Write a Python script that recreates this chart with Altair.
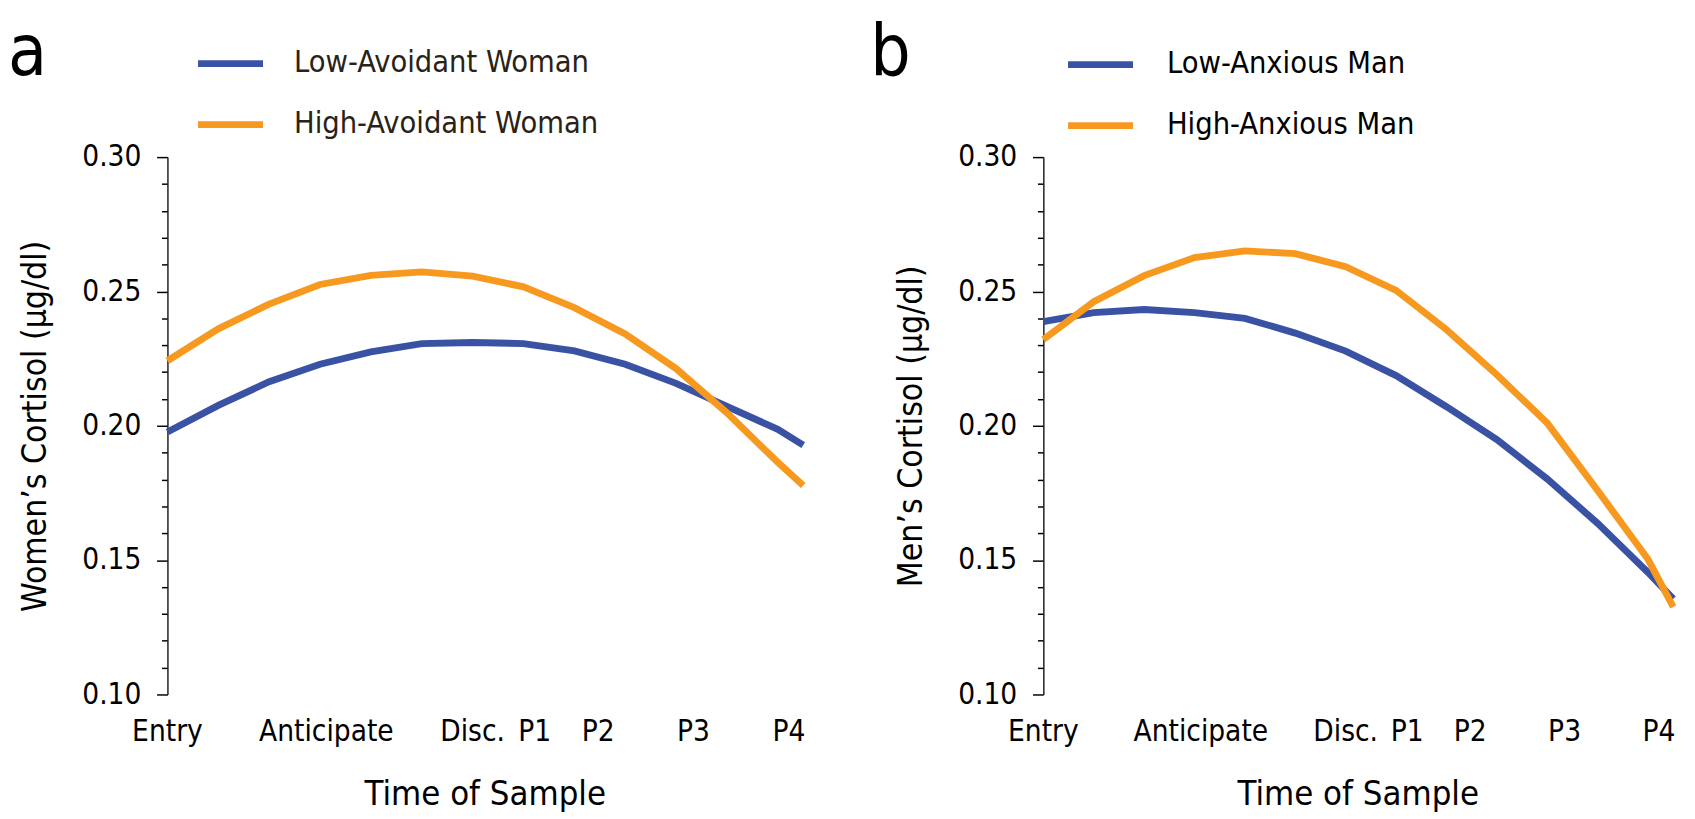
import altair as alt
import pandas as pd

# ---- data ----
t_points = [0, 1.6, 3.2, 4.8, 6.4, 8.0, 9.6, 11.2, 12.8, 14.4, 16.0, 17.6, 19.2, 20.0]

women_low_avoidant = [0.1977, 0.2076, 0.2164, 0.2229, 0.2275, 0.2306, 0.2310,
                      0.2306, 0.2279, 0.2229, 0.2158, 0.2072, 0.1987, 0.1928]
women_high_avoidant = [0.2242, 0.2361, 0.2453, 0.2526, 0.2560, 0.2573, 0.2557,
                       0.2517, 0.2440, 0.2342, 0.2213, 0.2048, 0.1864, 0.1778]
men_low_anxious = [0.2388, 0.2421, 0.2433, 0.2421, 0.2400, 0.2345, 0.2278,
                   0.2187, 0.2071, 0.1949, 0.1802, 0.1637, 0.1454, 0.1356]
men_high_anxious = [0.2321, 0.2462, 0.2559, 0.2626, 0.2651, 0.2641, 0.2592,
                    0.2504, 0.2358, 0.2190, 0.2010, 0.1759, 0.1503, 0.1326]

series_a = ["Low-Avoidant Woman", "High-Avoidant Woman"]
series_b = ["Low-Anxious Man", "High-Anxious Man"]
line_colors = ["#3a52a4", "#f7991f"]

time_labels = ["Entry", "Anticipate", "Disc.", "P1", "P2", "P3", "P4"]
time_label_pos = [0, 5, 9.6, 11.55, 13.55, 16.55, 19.55]

x_tick_values = [0, 1, 2, 3, 4, 5, 6, 7, 8, 9, 10, 11, 12, 13, 14, 15, 16, 17, 18, 19, 20]
y_tick_values = [0.10, 0.11, 0.12, 0.13, 0.14, 0.15, 0.16, 0.17, 0.18, 0.19, 0.20,
                 0.21, 0.22, 0.23, 0.24, 0.25, 0.26, 0.27, 0.28, 0.29, 0.30]

FONT = "DejaVu Sans Condensed, DejaVu Sans, sans-serif"
H = 546
TICK_FS = 30
TITLE_FS = 34
XTITLE_FS = 35
LEGEND_FS = 31
LETTER_FS = 72


def panel(letter, letter_x, names, low, high, ytitle, width, legend_x, legend_y,
          label_offset, label_color):
    df = pd.DataFrame({
        "t": t_points + t_points,
        "v": low + high,
        "series": [names[0]] * len(t_points) + [names[1]] * len(t_points),
    })
    lines = alt.Chart(df).mark_line(strokeWidth=7).encode(
        x=alt.X("t:Q",
                scale=alt.Scale(domain=[0, 20], nice=False, zero=False),
                axis=alt.Axis(values=x_tick_values, labels=False,
                              tickSize={"condition": {"test": "datum.value % 5 === 0", "value": 11},
                                        "value": 6.5},
                              tickWidth=1.5, tickColor="black",
                              domainColor="#231f20", domainWidth=1.5,
                              title=None)),
        y=alt.Y("v:Q",
                scale=alt.Scale(domain=[0.10, 0.30], nice=False, zero=False),
                axis=alt.Axis(values=y_tick_values,
                              labelExpr="round(datum.value*100) % 5 === 0 ? format(datum.value, '.2f') : ''",
                              tickSize={"condition": {"test": "round(datum.value*100) % 5 === 0", "value": 11},
                                        "value": 6},
                              tickWidth=1.5, tickColor="black",
                              domainColor="#231f20", domainWidth=1.5,
                              labelFont=FONT, labelFontSize=TICK_FS, labelColor="black",
                              labelPadding=16,
                              title=ytitle, titleX=-134, titleY=H / 2, titleAngle=270,
                              titleAlign="center", titleBaseline="middle",
                              titleFont=FONT, titleFontSize=TITLE_FS, titleFontWeight="normal",
                              titleColor="black")),
        color=alt.Color("series:N",
                        scale=alt.Scale(domain=names, range=line_colors),
                        legend=alt.Legend(orient="none", legendX=legend_x, legendY=legend_y,
                                          direction="vertical", title=None,
                                          symbolType="stroke", symbolSize=4356,
                                          symbolStrokeWidth=7, clipHeight=36,
                                          rowPadding=26, padding=0, labelLimit=0,
                                          labelFont=FONT, labelFontSize=LEGEND_FS,
                                          labelColor=label_color,
                                          labelOffset=label_offset)),
    )
    lab_df = pd.DataFrame({"pos": time_label_pos, "lab": time_labels})
    labels = alt.Chart(lab_df).mark_text(
        font=FONT, fontSize=TICK_FS, align="center", baseline="alphabetic", color="black"
    ).encode(
        x=alt.X("pos:Q", axis=None),
        y=alt.value(H + 47),
        text="lab:N",
    )
    xtitle = alt.Chart(pd.DataFrame({"T": ["Time of Sample"]})).mark_text(
        font=FONT, fontSize=XTITLE_FS, align="center", baseline="alphabetic", color="black"
    ).encode(
        x=alt.value(width / 2),
        y=alt.value(H + 112),
        text="T:N",
    )
    let = alt.Chart(pd.DataFrame({"L": [letter]})).mark_text(
        font=FONT, fontSize=LETTER_FS, align="left", baseline="alphabetic", color="black"
    ).encode(
        x=alt.value(letter_x),
        y=alt.value(-83.4),
        text="L:N",
    )
    return alt.layer(lines, labels, xtitle, let).properties(width=width, height=H)


pa = panel("a", -162, series_a, women_low_avoidant, women_high_avoidant,
           "Women’s Cortisol (μg/dl)", 646, 27.6, -113, 28, "#2a2215")
pb = panel("b", -176, series_b, men_low_anxious, men_high_anxious,
           "Men’s Cortisol (μg/dl)", 640, 21.6, -112, 31, "black")

chart = alt.hconcat(pa, pb, spacing=54).resolve_scale(color="independent").configure(
    padding={"top": 3, "left": 0, "right": 0, "bottom": 0}
).configure_view(stroke=None).configure_axis(grid=False)

chart.save("out.html", embed_options={"renderer": "svg", "actions": False})
